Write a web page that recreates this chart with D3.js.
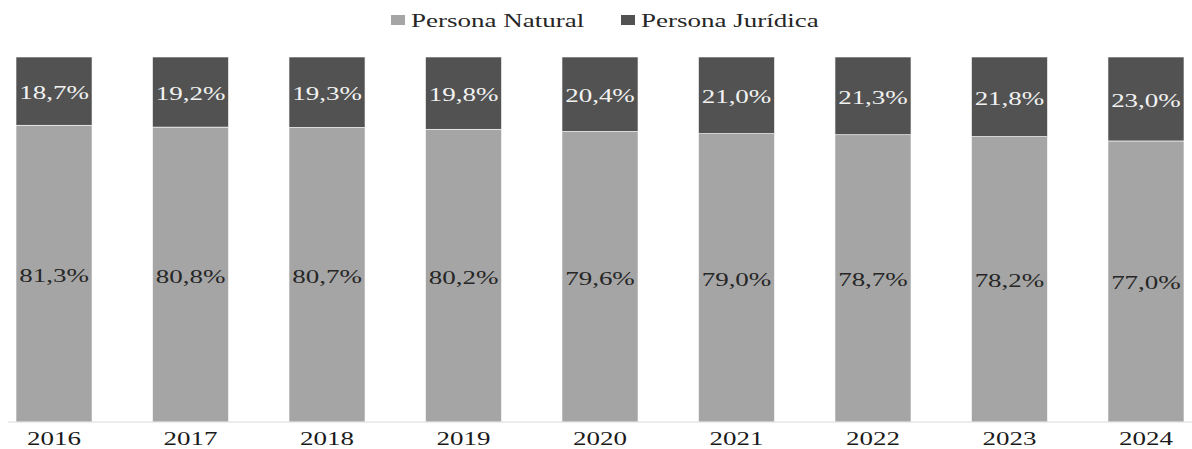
<!DOCTYPE html>
<html>
<head>
<meta charset="utf-8">
<script src="https://cdn.jsdelivr.net/npm/d3@7"></script>
<style>
  html, body { margin: 0; padding: 0; background: #fff; }
  svg { display: block; }
  svg text { font-family: "Liberation Serif", "Times New Roman", serif; }
</style>
</head>
<body>
<svg id="chart" width="1192" height="449"></svg>
<script>
// Share of taxpayers by type, per year (percent)
const years = ["2016", "2017", "2018", "2019", "2020", "2021", "2022", "2023", "2024"];
const personaNatural = [81.3, 80.8, 80.7, 80.2, 79.6, 79.0, 78.7, 78.2, 77.0];
const personaJuridica = [18.7, 19.2, 19.3, 19.8, 20.4, 21.0, 21.3, 21.8, 23.0];
const seriesNames = ["Persona Natural", "Persona Jurídica"];

const colors = { natural: "#a5a5a5", juridica: "#525252" };
const serif = "Liberation Serif, Times New Roman, serif";
const textStretch = 1.5; // wide glyphs used throughout the chart

const svg = d3.select("#chart");

const x = d3.scaleBand()
  .domain(years)
  .range([16, 1184])
  .paddingInner(0.443)
  .paddingOuter(0);

const y = d3.scaleLinear().domain([0, 100]).range([422, 57]);

const locale = d3.formatLocale({ decimal: ",", thousands: ".", grouping: [3], currency: ["", ""] });
const fmt = v => locale.format(".1f")(v) + "%";

const rows = years.map((yr, i) => ({ year: yr, nat: personaNatural[i], jur: personaJuridica[i] }));

// stacked segments
const g = svg.append("g");
const bars = g.selectAll("g.bar").data(rows).join("g").attr("class", "bar");

bars.append("rect")
  .attr("x", d => x(d.year))
  .attr("width", x.bandwidth())
  .attr("y", d => y(d.nat))
  .attr("height", d => y(0) - y(d.nat))
  .attr("fill", colors.natural)
  .attr("stroke", "#ffffff").attr("stroke-width", 0.6);

bars.append("rect")
  .attr("x", d => x(d.year))
  .attr("width", x.bandwidth())
  .attr("y", d => y(d.nat + d.jur))
  .attr("height", d => y(d.nat) - y(d.nat + d.jur))
  .attr("fill", colors.juridica)
  .attr("stroke", "#ffffff").attr("stroke-width", 0.6);

// value labels
function stretchedText(sel, tx, ty) {
  return sel.attr("transform", d => `translate(${tx(d)},${ty(d)}) scale(${textStretch},1)`);
}

stretchedText(bars.append("text"),
  d => x(d.year) + x.bandwidth() / 2,
  d => (y(d.nat) + y(0)) / 2 + 8)
  .attr("text-anchor", "middle")
  .attr("font-family", serif)
  .attr("font-size", 18)
  .attr("fill", "#262626")
  .text(d => fmt(d.nat));

stretchedText(bars.append("text"),
  d => x(d.year) + x.bandwidth() / 2,
  d => (y(d.nat + d.jur) + y(d.nat)) / 2 + 8)
  .attr("text-anchor", "middle")
  .attr("font-family", serif)
  .attr("font-size", 18)
  .attr("fill", "#f2f2f2")
  .text(d => fmt(d.jur));

// category axis
const axis = svg.append("g").attr("transform", "translate(0,422)")
  .call(d3.axisBottom(x).tickSize(0).tickPadding(0));
axis.attr("font-family", serif);
axis.select(".domain").remove();
axis.append("line").attr("x1", 8).attr("x2", 1192).attr("y1", 0).attr("y2", 0)
  .attr("stroke", "#d9d9d9").attr("stroke-width", 1);
axis.selectAll(".tick text")
  .attr("font-family", serif)
  .attr("font-size", 18)
  .attr("fill", "#1a1a1a")
  .attr("dy", null)
  .attr("y", 23.5)
  .attr("transform", `scale(${textStretch},1)`);

// legend
const legendItems = [
  { name: seriesNames[0], color: colors.natural, x: 391 },
  { name: seriesNames[1], color: colors.juridica, x: 621 }
];
const legend = svg.append("g").selectAll("g").data(legendItems).join("g")
  .attr("transform", d => `translate(${d.x},0)`);
legend.append("rect").attr("x", 0).attr("y", 15).attr("width", 14).attr("height", 10)
  .attr("fill", d => d.color);
legend.append("text")
  .attr("transform", `translate(20,27) scale(${textStretch},1)`)
  .attr("font-family", serif)
  .attr("font-size", 18)
  .attr("fill", "#262626")
  .text(d => d.name);
</script>
</body>
</html>
